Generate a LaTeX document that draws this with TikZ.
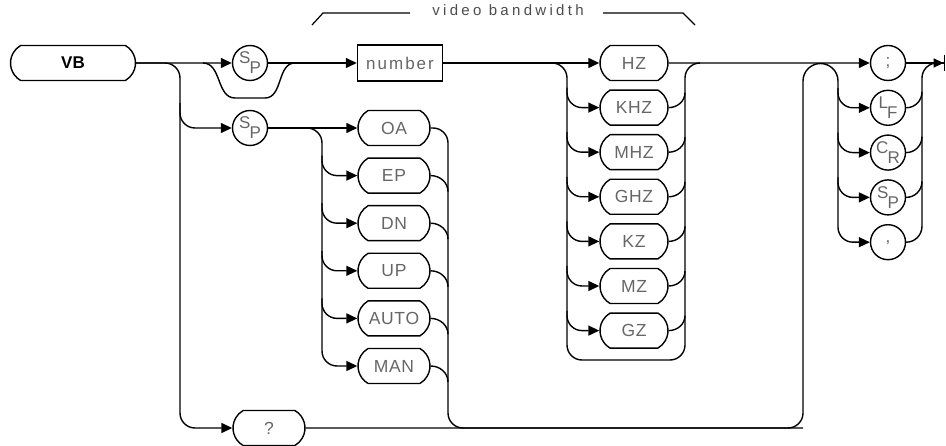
\documentclass[tikz,border=0pt]{standalone}
\usepackage{fontspec}
\setmainfont{Liberation Sans}
\usetikzlibrary{arrows.meta, calc, shapes.misc, positioning}

\tikzset{
  conn/.style={line width=1.4pt},
  arr/.style={-{Triangle[length=11pt,width=10pt]}},
  kw/.style={draw, line width=1.4pt, rounded rectangle, rounded rectangle arc length=120,
    minimum width=72pt, minimum height=35pt, inner sep=0pt, text=black!60,
    font=\fontsize{17.5}{17.5}\selectfont\addfontfeature{LetterSpace=4}},
  ch/.style={draw, line width=1.4pt, circle, minimum size=35pt, inner sep=0pt, text=black!60,
    font=\fontsize{17}{17}\selectfont},
  numbox/.style={draw, line width=1.4pt, rectangle, minimum width=85pt, minimum height=36pt,
    inner sep=0pt, text=black!60, font=\fontsize{17}{17}\selectfont\addfontfeature{LetterSpace=12}}
}
\newcommand{\twolet}[2]{\raisebox{3pt}{#1}\kern-1pt\raisebox{-7pt}{#2}}

\begin{document}
\begin{tikzpicture}[x=1pt,y=-1pt]
\useasboundingbox (0,0) rectangle (946,446);

% main row
\node[kw, minimum width=125pt, text=black, font=\fontsize{17}{17}\selectfont\bfseries] (vb) at (73,63) {VB};
\node[ch] (sp1) at (250,63) {\twolet{S}{P}};
\node[numbox] (num) at (400,63) {number};
\node[ch] (sp2) at (250,128) {\twolet{S}{P}};
\node[kw] (q) at (269,428) {?};
\foreach \lbl [count=\i] in {OA,EP,DN,UP,AUTO,MAN}
  \node[kw] (m\i) at (394,{128+47.6*(\i-1)}) {\lbl};
\foreach \lbl [count=\i] in {HZ,KHZ,MHZ,GHZ,KZ,MZ,GZ}
  \node[kw, minimum width=68pt] (u\i) at (634,{63+44.6*(\i-1)}) {\lbl};
\foreach \lbl [count=\i] in {;,\twolet{L}{F},\twolet{C}{R},\twolet{S}{P},{,}}
  \node[ch] (t\i) at (888,{63+44.8*(\i-1)}) {\lbl};

% bracket label
\node[anchor=mid, text=black!70, font=\fontsize{15}{15}\selectfont\addfontfeature{LetterSpace=22}] (bw) at (508,13) {video bandwidth};
\draw[conn, line width=1.2pt] (410,13) -- (323,13) -- (312,25);
\draw[conn, line width=1.2pt] (603,13) -- (683,13) -- (695,25);

% columns
\coordinate (cA) at (180,0);
\coordinate (cB) at (322,0);
\coordinate (cC) at (448,0);
\coordinate (cD) at (567,0);
\coordinate (cE) at (685,0);
\coordinate (cF) at (803,0);
\coordinate (cG) at (838,0);
\coordinate (cH) at (922,0);
\coordinate (ubot) at (0,360);
\coordinate (fin) at (945,63);

% main line
\draw[conn,arr] (vb) -- (sp1);
\draw[conn,arr] (sp1) -- (num);
\draw[conn,arr] (num) -- (u1);
\draw[conn,arr] (u1) -- (t1);
\draw[conn,-{Triangle[length=10pt,width=9pt]Bar[width=16pt]}] (t1) -- (fin);

% optional space
\draw[conn] ($(sp1)+(-47,0)$) to[out=0,in=180] ($(sp1)+(-15,35)$) -- ($(sp1)+(15,35)$)
  to[out=0,in=180] ($(sp1)+(45,0)$);

% left column
\draw[conn,arr,rounded corners=15pt] (vb.east) -| (cA |- q) -- (q);
\draw[conn,arr,rounded corners=15pt] ($(cA |- sp2)+(0,-25)$) |- (sp2);

% modes
\draw[conn,arr] (sp2) -- (m1);
\draw[conn,arr,rounded corners=15pt] ($(sp2.east)+(39,0)$) -| (cB |- m6) -- (m6);
\foreach \i in {2,...,5}
  \draw[conn,arr,rounded corners=15pt] ($(cB |- m\i)+(0,-20)$) |- (m\i);
\draw[conn,rounded corners=15pt] (m1.east) -| (cC |- q) -- (cF |- q);
\foreach \i in {2,...,6}
  \draw[conn] (m\i.east) to[out=0,in=90] ($(cC |- m\i)+(0,16)$);

% units
\draw[conn,rounded corners=15pt] ($(cD |- u1)+(-15,0)$) -| (cD |- ubot) -| (cE |- u1) -- ++(15,0);
\foreach \i in {2,...,7}{
  \draw[conn,arr,rounded corners=15pt] ($(cD |- u\i)+(0,-20)$) |- (u\i);
  \draw[conn] (u\i.east) to[out=0,in=-90] ($(cE |- u\i)+(0,-15)$);
}

% return and terminators
\draw[conn,rounded corners=15pt] (q.east) -| ($(cF |- vb)+(0,18)$);
\draw[conn] ($(cF |- vb)+(0,18)$) arc[start angle=180,end angle=0,radius=17.5pt];
\draw[conn,arr,rounded corners=15pt] ($(cG |- vb)+(0,18)$) |- (t5);
\foreach \i in {2,...,4}
  \draw[conn,arr,rounded corners=15pt] ($(cG |- t\i)+(0,-20)$) |- (t\i);
\draw[conn,rounded corners=15pt] ($(cH |- t5)+(0,-16)$) |- ($(cH |- t1)+(15,0)$);
\foreach \i in {2,...,5}
  \draw[conn] (t\i.east) to[out=0,in=-90] ($(cH |- t\i)+(0,-16)$);
\end{tikzpicture}
\end{document}
